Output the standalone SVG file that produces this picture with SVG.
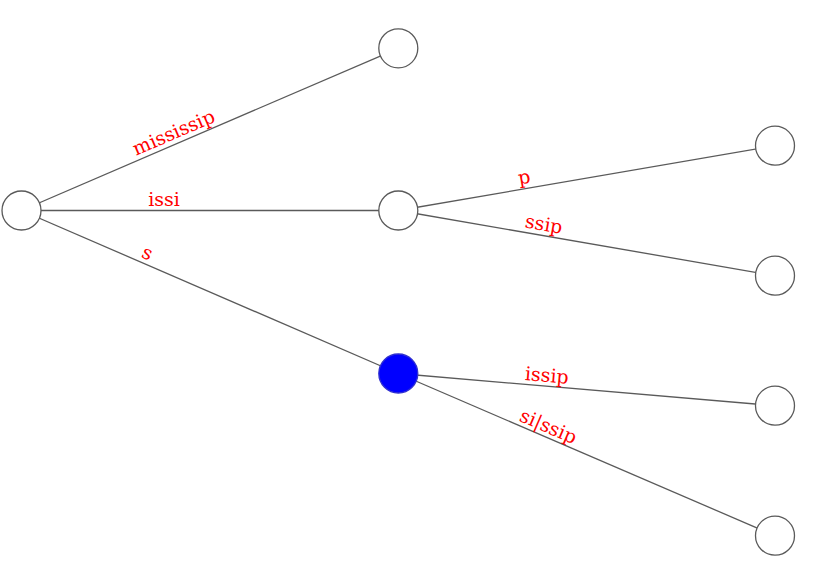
<svg xmlns="http://www.w3.org/2000/svg" width="814" height="567" viewBox="0 0 814 567">
<style>
.e{stroke:#5a5a5a;stroke-width:1.3;fill:none}
.n{fill:#fff;stroke:#5a5a5a;stroke-width:1.3}
.l{font-family:"DejaVu Serif",serif;font-size:19px;fill:#ff0000;text-anchor:middle}
</style>
<rect width="814" height="567" fill="#fff"/>
<g id="connectors">
<line class="e" x1="21.5" y1="210.5" x2="398.3" y2="48.3"/>
<line class="e" x1="21.5" y1="210.5" x2="398.3" y2="210.5"/>
<line class="e" x1="21.5" y1="210.5" x2="398.3" y2="373.5"/>
<line class="e" x1="398.3" y1="210.5" x2="775" y2="145.7"/>
<line class="e" x1="398.3" y1="210.5" x2="775" y2="275.7"/>
<line class="e" x1="398.3" y1="373.5" x2="775" y2="405.7"/>
<line class="e" x1="398.3" y1="373.5" x2="775" y2="535.7"/>
<g transform="translate(178,142.6) rotate(-23.3)"><text class="l" y="-4.5">mississip</text></g>
<g transform="translate(164,210.5) rotate(0)"><text class="l" y="-4.5">issi</text></g>
<g transform="translate(143,263.2) rotate(23.4)"><text class="l" y="-5">s</text></g>
<g transform="translate(526,188) rotate(-9.8)"><text class="l" y="-4.5">p</text></g>
<g transform="translate(542,235) rotate(9.8)"><text class="l" y="-4.5">ssip</text></g>
<g transform="translate(546,386.3) rotate(4.9)"><text class="l" y="-4.5">issip</text></g>
<g transform="translate(544,436.5) rotate(23.3)"><text class="l" y="-4.5">si|ssip</text></g>
</g>
<g id="n0"><circle class="n" cx="21.5" cy="210.5" r="19.5"/></g>
<g id="n1"><circle class="n" cx="398.3" cy="48.3" r="19.5"/></g>
<g id="n2"><circle class="n" cx="398.3" cy="210.5" r="19.5"/></g>
<g id="n3"><circle cx="398.3" cy="373.5" r="19.5" fill="#0000ff" stroke="#3030d0" stroke-width="1.3"/></g>
<g id="n4"><circle class="n" cx="775" cy="145.7" r="19.5"/></g>
<g id="n5"><circle class="n" cx="775" cy="275.7" r="19.5"/></g>
<g id="n6"><circle class="n" cx="775" cy="405.7" r="19.5"/></g>
<g id="n7"><circle class="n" cx="775" cy="535.7" r="19.5"/></g>
</svg>
